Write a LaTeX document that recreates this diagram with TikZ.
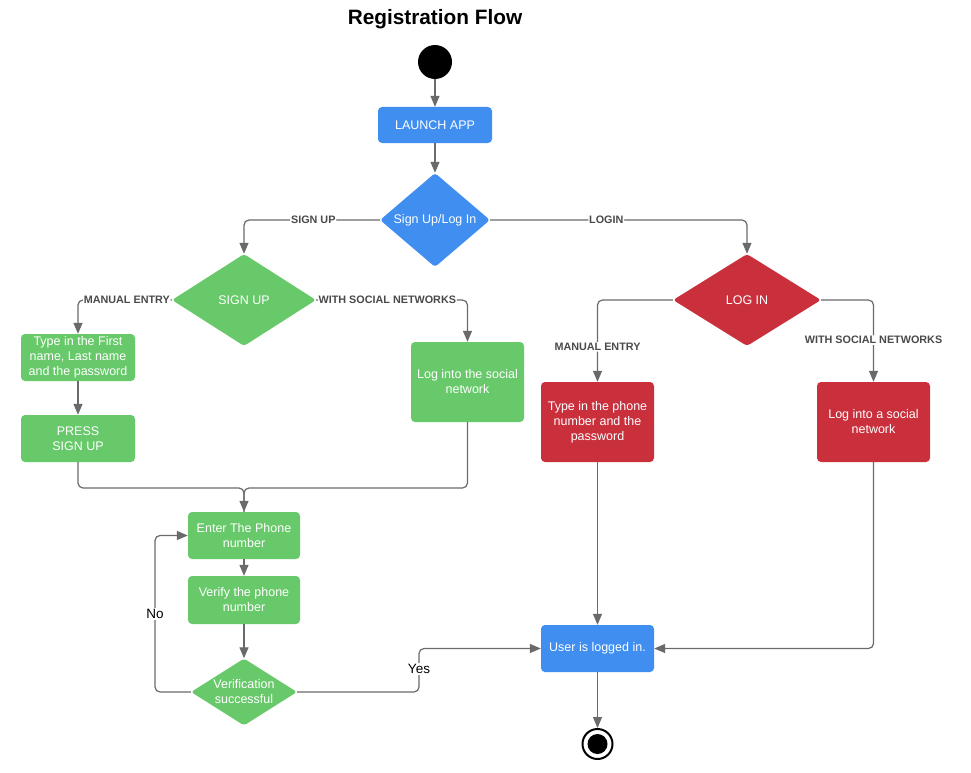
\documentclass[tikz,border=0pt]{standalone}
\usepackage{fontspec}
\setmainfont{Liberation Sans}
\usetikzlibrary{shapes.geometric,arrows.meta,calc}
\definecolor{lblue}{HTML}{3F8EF0}
\definecolor{lgreen}{HTML}{67C96A}
\definecolor{lred}{HTML}{C9303C}
\definecolor{edgec}{HTML}{6A6A6A}
\definecolor{lbltxt}{HTML}{4A4A4A}
\begin{document}
\begin{tikzpicture}[x=1pt,y=-1pt,
  box/.style={rectangle, rounded corners=4pt, text=white, align=center,
    font=\fontsize{12.5}{15}\selectfont, inner sep=0pt},
  dia/.style={diamond, rounded corners=3pt, inner sep=0pt},
  dtext/.style={text=white, align=center, font=\fontsize{12.5}{15}\selectfont},
  conn/.style={draw=edgec, line width=1.2pt, -{Triangle[length=11pt,width=9pt]}, rounded corners=5pt},
  plain/.style={draw=edgec, line width=1.2pt, rounded corners=5pt},
  lbl/.style={fill=white, inner sep=1pt, text=lbltxt, font=\bfseries\fontsize{10.8}{12}\selectfont},
  yn/.style={fill=white, inner sep=1.5pt, text=black, font=\fontsize{13.5}{15}\selectfont}]
\useasboundingbox[fill=white] (0,0) rectangle (971,773);

\node[font=\bfseries\fontsize{20.8}{24}\selectfont] (title) at (435,19) {Registration Flow};

\node[circle, fill=black, minimum size=34pt, inner sep=0pt] (start) at (435,62) {};
\node[box, fill=lblue, minimum width=114pt, minimum height=36pt] (launch) at (435,125) {LAUNCH APP};

\node[dia, fill=lblue, minimum width=110pt, minimum height=94pt] (sul) at (435,220) {};
\node[dtext] (sultext) at (sul.center) {Sign Up/Log In};

\node[dia, fill=lgreen, minimum width=144pt, minimum height=92pt] (signup) at (244,300) {};
\node[dtext] (signuptext) at (signup.center) {SIGN UP};

\node[dia, fill=lred, minimum width=148pt, minimum height=92pt] (login) at (747,300) {};
\node[dtext] (logintext) at (login.center) {LOG IN};

\node[box, fill=lgreen, minimum width=114pt, minimum height=47pt] (typefirst) at (78,357.5) {Type in the First\\name, Last name\\and the password};
\node[box, fill=lgreen, minimum width=114pt, minimum height=47pt] (press) at (78,438.5) {PRESS\\SIGN UP};
\node[box, fill=lgreen, minimum width=113pt, minimum height=80pt] (socialG) at (467.5,382) {Log into the social\\network};

\node[box, fill=lred, minimum width=113pt, minimum height=80pt] (typephone) at (597.5,422) {Type in the phone\\number and the\\password};
\node[box, fill=lred, minimum width=113pt, minimum height=80pt] (socialR) at (873.5,422) {Log into a social\\network};

\node[box, fill=lgreen, minimum width=112pt, minimum height=47pt] (enter) at (244,535.5) {Enter The Phone\\number};
\node[box, fill=lgreen, minimum width=112pt, minimum height=48pt] (verify) at (244,600) {Verify the phone\\number};

\node[dia, fill=lgreen, minimum width=106pt, minimum height=67pt] (verif) at (244,692) {};
\node[dtext] (veriftext) at (verif.center) {Verification\\successful};

\node[box, fill=lblue, minimum width=113pt, minimum height=47pt] (user) at (597.5,648.5) {User is logged in.};

\node[circle, draw=black, line width=2pt, fill=white, minimum size=30pt, inner sep=0pt] (end) at (597.5,744) {};
\fill[black] (end.center) circle[radius=10pt];

% connectors
\draw[conn] (start) -- (launch);
\draw[conn] (launch) -- (sul);
\draw[conn] (sul.west) -| node[lbl, pos=0.245] {SIGN UP} (signup.north);
\draw[conn] (sul.east) -| node[lbl, pos=0.226] {LOGIN} (login.north);
\draw[conn] (signup.west) -| node[lbl, pos=0.24] {MANUAL ENTRY} (typefirst.north);
\draw[conn] (signup.east) -| node[lbl, pos=0.235] {WITH SOCIAL NETWORKS} (socialG.north);
\draw[conn] (login.west) -| node[lbl, pos=0.787] {MANUAL ENTRY} (typephone.north);
\draw[conn] (login.east) -| node[lbl, pos=0.745] {WITH SOCIAL NETWORKS} (socialR.north);
\draw[conn] (typefirst) -- (press);

\coordinate (merge) at (244,488);
\draw[plain] (socialG.south) |- (merge) -- (enter.north);
\draw[conn] (press.south) |- (merge) -- (enter.north);

\draw[conn] (enter) -- (verify);
\draw[conn] (verify) -- (verif.north);

\coordinate (noc) at (155,614);
\draw[conn] (verif.west) -| (noc) |- (enter.west);
\node[yn] (nolabel) at (noc) {No};

\coordinate (yesc) at (419,669);
\draw[conn] (verif.east) -| (yesc) |- (user.west);
\node[yn] (yeslabel) at (yesc) {Yes};

\draw[conn] (typephone) -- (user);
\draw[conn] (socialR.south) |- (user.east);
\draw[conn] (user) -- (end);
\end{tikzpicture}
\end{document}
